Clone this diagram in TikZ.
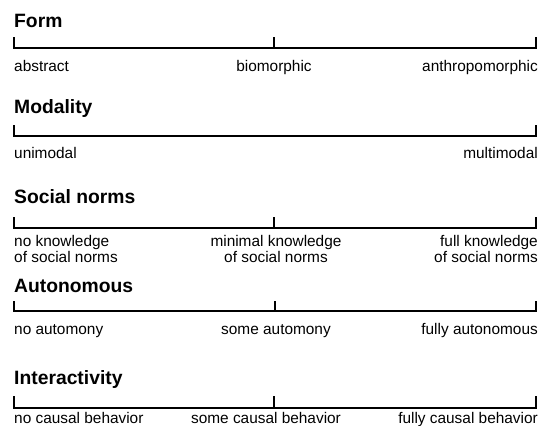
\documentclass[tikz,border=0pt]{standalone}
\usepackage{fontspec}
\setmainfont{Liberation Sans}
\begin{document}
\begin{tikzpicture}[x=1pt,y=-1pt,
  ttl/.style={inner sep=0pt,anchor=base west,font=\fontsize{19.3}{23}\selectfont\bfseries},
  lbl/.style={inner sep=0pt,font=\fontsize{15.4}{16}\selectfont},
  scaleline/.style={line width=1.7pt,line cap=butt,line join=miter},
  tickline/.style={line width=1.9pt}]
\useasboundingbox (0,0) rectangle (544,426);
% ---------- Form
\node[ttl] (t1) at (14,27) {Form};
\coordinate (f1a) at (14,37); \coordinate (f1l) at (14,48);
\coordinate (f1r) at (536,48); \coordinate (f1b) at (536,37);
\coordinate (f1m) at (274,48); \coordinate (f1n) at (274,37);
\draw[scaleline] (f1a) -- (f1l) -- (f1r) -- (f1b);
\draw[tickline] (f1m) -- (f1n);
\node[lbl,anchor=base west] (l1a) at (14,71) {abstract};
\node[lbl,anchor=base] (l1b) at (274,71) {biomorphic};
\node[lbl,anchor=base east] (l1c) at (538,71) {anthropomorphic};
% ---------- Modality
\node[ttl] (t2) at (14,113) {Modality};
\coordinate (f2a) at (14,125); \coordinate (f2l) at (14,136);
\coordinate (f2r) at (536,136); \coordinate (f2b) at (536,125);
\draw[scaleline] (f2a) -- (f2l) -- (f2r) -- (f2b);
\node[lbl,anchor=base west] (l2a) at (14,158) {unimodal};
\node[lbl,anchor=base east] (l2c) at (538,158) {multimodal};
% ---------- Social norms
\node[ttl] (t3) at (14,203) {Social norms};
\coordinate (f3a) at (14,217); \coordinate (f3l) at (14,228);
\coordinate (f3r) at (536,228); \coordinate (f3b) at (536,217);
\coordinate (f3m) at (274,228); \coordinate (f3n) at (274,217);
\draw[scaleline] (f3a) -- (f3l) -- (f3r) -- (f3b);
\draw[tickline] (f3m) -- (f3n);
\node[lbl,anchor=base west,align=left] (l3a) at (14,262) {no knowledge\\of social norms};
\node[lbl,anchor=base,align=center] (l3b) at (276,262) {minimal knowledge\\of social norms};
\node[lbl,anchor=base east,align=right] (l3c) at (538,262) {full knowledge\\of social norms};
% ---------- Autonomous
\node[ttl] (t4) at (14,292) {Autonomous};
\coordinate (f4a) at (14,301); \coordinate (f4l) at (14,311);
\coordinate (f4r) at (536,311); \coordinate (f4b) at (536,301);
\coordinate (f4m) at (275,311); \coordinate (f4n) at (275,301);
\draw[scaleline] (f4a) -- (f4l) -- (f4r) -- (f4b);
\draw[tickline] (f4m) -- (f4n);
\node[lbl,anchor=base west] (l4a) at (14,334) {no automony};
\node[lbl,anchor=base] (l4b) at (276,334) {some automony};
\node[lbl,anchor=base east] (l4c) at (538,334) {fully autonomous};
% ---------- Interactivity
\node[ttl] (t5) at (14,384) {Interactivity};
\coordinate (f5a) at (14,396); \coordinate (f5l) at (14,408);
\coordinate (f5r) at (536,408); \coordinate (f5b) at (536,396);
\coordinate (f5m) at (274,408); \coordinate (f5n) at (274,396);
\draw[scaleline] (f5a) -- (f5l) -- (f5r) -- (f5b);
\draw[tickline] (f5m) -- (f5n);
\node[lbl,anchor=base west] (l5a) at (14,423) {no causal behavior};
\node[lbl,anchor=base] (l5b) at (266,423) {some causal behavior};
\node[lbl,anchor=base east] (l5c) at (538,423) {fully causal behavior};
\end{tikzpicture}
\end{document}
